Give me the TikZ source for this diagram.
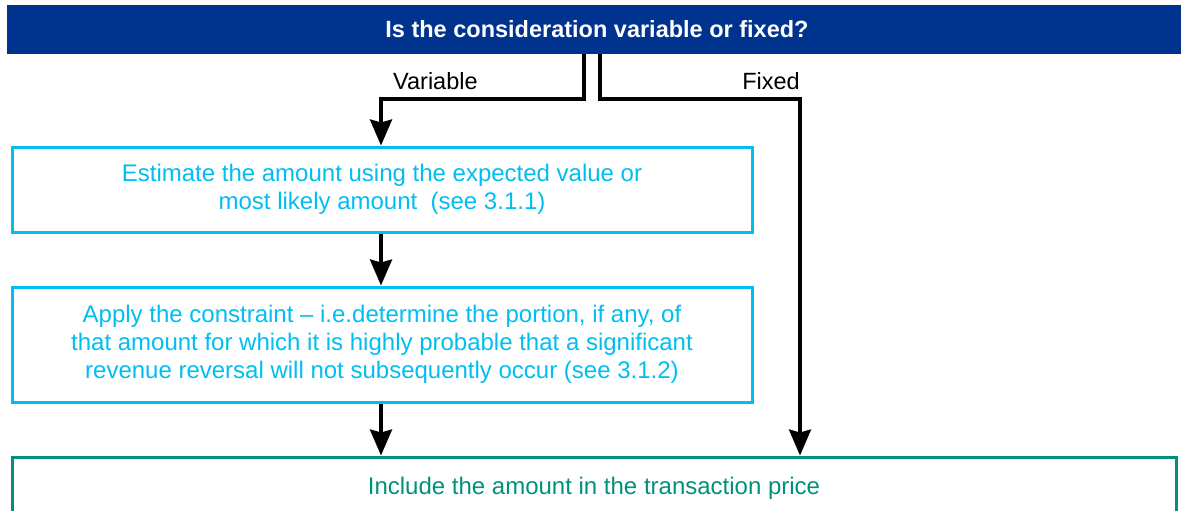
\documentclass[tikz,border=0pt]{standalone}
\usepackage{fontspec}
\setmainfont{Liberation Sans}
\usetikzlibrary{positioning,arrows.meta}
\definecolor{kblue}{RGB}{0,51,141}
\definecolor{kcyan}{RGB}{0,190,240}
\definecolor{kteal}{RGB}{0,145,125}
\tikzset{>={Stealth[length=26pt,width=22pt,inset=3pt]}}
\tikzset{
  qbar/.style={fill=kblue, text=white, font=\fontsize{23.5}{28}\selectfont\bfseries,
    minimum width=1180pt, minimum height=49pt, inner sep=0pt},
  varbox/.style={draw=kcyan, line width=3pt, text=kcyan, align=center,
    font=\fontsize{24}{28}\selectfont, minimum width=740pt, inner sep=0pt},
  incbox/.style={draw=kteal, line width=3pt, text=kteal,
    font=\fontsize{24}{28}\selectfont, minimum width=1164pt, minimum height=62pt, inner sep=0pt},
  lbl/.style={font=\fontsize{23.5}{28}\selectfont, inner sep=0pt},
  flow/.style={->, line width=3.5pt}
}
\begin{document}
\begin{tikzpicture}[x=1pt,y=1pt]
  \useasboundingbox (0,0) rectangle (1181,-511);

  % Nodes
  \node[qbar]   (question)   at (597,-29.5) {Is the consideration variable or fixed?};
  \node[varbox, minimum height=85pt] (estimate) at (382,-189.5)
    {Estimate the amount using the expected value or\\most likely amount\ \ (see 3.1.1)};
  \node[varbox, minimum height=115pt, below=52pt of estimate] (constraint)
    {Apply the constraint -- i.e.determine the portion, if any, of\\that amount for which it is highly probable that a significant\\revenue reversal will not subsequently occur (see 3.1.2)};
  \node[incbox, below=52pt of constraint.south west, anchor=north west] (include)
    {Include the amount in the transaction price};

  \coordinate (varturn)   at (381,-99);
  \coordinate (fixedturn) at (800,-99);
  \node[lbl, anchor=base west] (varlabel)   at (393,-89) {Variable};
  \node[lbl, anchor=base east] (fixedlabel) at (800,-89) {Fixed};

  % Edges
  \draw[flow] ([xshift=-13pt]question.south) |- (varturn) -- (varturn |- estimate.north);
  \draw[flow] ([xshift=3pt]question.south) |- (fixedturn) -- (fixedturn |- include.north);
  \draw[flow] (estimate.south -| varturn) -- (constraint.north -| varturn);
  \draw[flow] (constraint.south -| varturn) -- (include.north -| varturn);

\end{tikzpicture}
\end{document}
